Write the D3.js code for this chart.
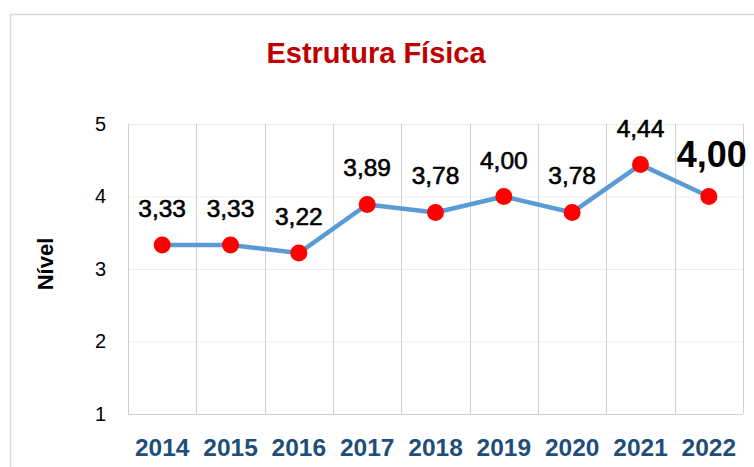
<!DOCTYPE html>
<html><head><meta charset="utf-8">
<script src="https://cdn.jsdelivr.net/npm/d3@7"></script>
<style>body{margin:0;background:#fff;} svg{display:block;}</style>
</head><body>
<svg id="c" width="754" height="467"></svg>
<script>
const years = ["2014","2015","2016","2017","2018","2019","2020","2021","2022"];
const values = [3.33, 3.33, 3.22, 3.89, 3.78, 4.00, 3.78, 4.44, 4.00];
const labels = ["3,33","3,33","3,22","3,89","3,78","4,00","3,78","4,44","4,00"];
const yTicks = [1,2,3,4,5];
const title = "Estrutura Física";
const yTitle = "Nível";

const svg = d3.select("#c");
const font = "'Liberation Sans',Arial,sans-serif";
const m = {l:128, r:743, t:124, b:414};

svg.append("rect").attr("x",10.5).attr("y",14.5).attr("width",760).attr("height",470)
  .attr("fill","#fff").attr("stroke","#D9D9D9").attr("stroke-width",1.5);

const x = d3.scaleBand().domain(years).range([m.l,m.r]);
const y = d3.scaleLinear().domain([1,5]).range([m.b,m.t]);

svg.append("g").selectAll("line").data(yTicks).join("line")
  .attr("x1",m.l).attr("x2",m.r).attr("y1",d=>y(d)+0.5).attr("y2",d=>y(d)+0.5)
  .attr("stroke",d=>d===1?"#D0D0D0":"#EDEDED").attr("stroke-width",1);
const vx = years.map(d=>x(d)).concat([m.r]);
svg.append("g").selectAll("line").data(vx).join("line")
  .attr("x1",d=>Math.round(d)+0.5).attr("x2",d=>Math.round(d)+0.5)
  .attr("y1",m.t).attr("y2",m.b).attr("stroke","#D0D0D0").attr("stroke-width",1);

const yAxis = d3.axisLeft(y).tickValues(yTicks).tickSize(0).tickPadding(22).tickFormat(d3.format("d"));
const ga = svg.append("g").attr("transform",`translate(${m.l},0)`).call(yAxis);
ga.select(".domain").remove();
ga.selectAll("text").attr("font-family",font).attr("font-size",20).attr("fill","#000");

const xAxis = d3.axisBottom(x).tickSize(0).tickPadding(25);
const gx = svg.append("g").attr("transform",`translate(0,${m.b})`).call(xAxis);
gx.select(".domain").remove();
gx.selectAll("text").attr("font-family",font).attr("font-size",24.5).attr("font-weight","bold").attr("fill","#1F4E79");

svg.append("text").attr("x",376).attr("y",63).attr("text-anchor","middle")
  .attr("font-family",font).attr("font-size",29).attr("font-weight","bold").attr("fill","#C00000").text(title);

svg.append("text").attr("transform","translate(53,264) rotate(-90)").attr("text-anchor","middle")
  .attr("font-family",font).attr("font-size",22).attr("font-weight","bold").attr("fill","#000").text(yTitle);

const cx = d=>x(d)+x.bandwidth()/2;
const line = d3.line().x((d,i)=>cx(years[i])).y(d=>y(d));
svg.append("path").datum(values).attr("d",line).attr("fill","none")
  .attr("stroke","#5B9BD5").attr("stroke-width",4.5).attr("stroke-linejoin","round");
svg.append("g").selectAll("circle").data(values).join("circle")
  .attr("cx",(d,i)=>cx(years[i])).attr("cy",d=>y(d)).attr("r",8.5).attr("fill","#FF0000");

const n = values.length;
svg.append("g").selectAll("text").data(values).join("text")
  .attr("x",(d,i)=>cx(years[i]) + (i===n-1?3:0))
  .attr("y",(d,i)=>y(d) - (i===n-1?30:28))
  .attr("text-anchor","middle").attr("font-family",font)
  .attr("font-size",(d,i)=>i===n-1?36:24.5)
  .attr("font-weight",(d,i)=>i===n-1?"bold":"normal")
  .attr("stroke",(d,i)=>i===n-1?"none":"#000").attr("stroke-width",0.6)
  .attr("fill","#000").text((d,i)=>labels[i]);
</script>
</body></html>
